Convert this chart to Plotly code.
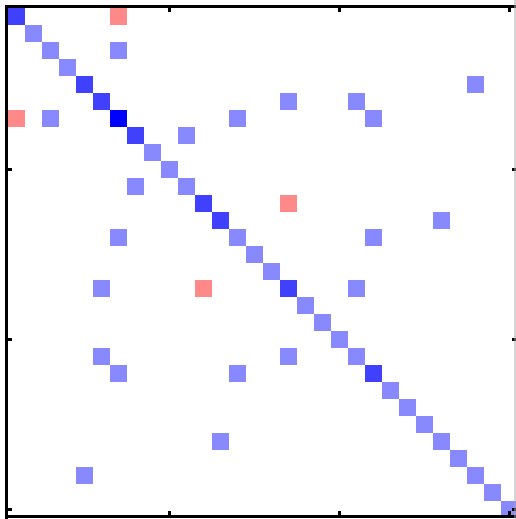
import plotly.graph_objects as go

N = 30
# diagonal levels (1 = light, 2 = medium, 3 = dark blue)
diag_levels = [2, 1, 1, 1, 2, 2, 3, 2, 1, 1,
               1, 2, 2, 1, 1, 1, 2, 1, 1, 1,
               1, 2, 1, 1, 1, 1, 1, 1, 1, 1]
# symmetric off-diagonal entries (upper triangle), -1 = red
off_rows = [1, 3, 5, 6, 6, 7, 7, 8, 12, 13, 14, 17]
off_cols = [7, 7, 28, 17, 21, 14, 22, 11, 17, 26, 22, 21]
off_vals = [-1, 1, 1, 1, 1, 1, 1, 1, -1, 1, 1, 1]
tick_vals = [10, 20, 30]

z = [[None] * N for _ in range(N)]
for i, v in enumerate(diag_levels):
    z[i][i] = v
for r, c, v in zip(off_rows, off_cols, off_vals):
    z[r - 1][c - 1] = v
    z[c - 1][r - 1] = v

idx = list(range(1, N + 1))

colorscale = [
    [0.0, '#ff8888'], [0.25, '#ff8888'],
    [0.25, '#8888ff'], [0.625, '#8888ff'],
    [0.625, '#4040ff'], [0.875, '#4040ff'],
    [0.875, '#0000ff'], [1.0, '#0000ff'],
]

fig = go.Figure(go.Heatmap(
    z=z, x=idx, y=idx, zmin=-1, zmax=3,
    colorscale=colorscale, showscale=False, hoverongaps=False,
))

W, H = 516, 519
ml, mr, mt, mb = 8, 0, 8, 4
px_per = 17.0
pw, ph = W - ml - mr, H - mt - mb
xr = [0.5, 0.5 + pw / px_per]
yr = [0.5 + ph / px_per, 0.5]

axis_common = dict(
    showgrid=False, zeroline=False, showticklabels=False,
    ticks='inside', ticklen=4, tickwidth=2.5, tickcolor='black',
    tickvals=tick_vals, linecolor='black', linewidth=3,
    mirror='ticks',
)
fig.update_xaxes(range=xr, showline=True, **axis_common)
fig.update_yaxes(range=yr, showline=False, **axis_common)

# left frame line (right side of frame falls just outside the picture)
fig.add_shape(type='line', xref='paper', yref='paper',
              x0=-1.5 / pw, x1=-1.5 / pw, y0=-4.0 / ph, y1=1 + 3.0 / ph,
              line=dict(color='black', width=3), layer='above')
# thin grey border at the right edge
fig.add_shape(type='line', xref='paper', yref='paper',
              x0=1 - 1.0 / pw, x1=1 - 1.0 / pw, y0=-4.0 / ph, y1=1 + 8.0 / ph,
              line=dict(color='#aaaaaa', width=1), layer='above')

fig.update_layout(
    width=W, height=H,
    margin=dict(l=ml, r=mr, t=mt, b=mb, pad=0),
    plot_bgcolor='white', paper_bgcolor='white',
)

fig.write_html(
    "out.html",
    config={'displayModeBar': False},
    post_script="document.body.style.margin='0';document.body.style.overflow='hidden';",
)
